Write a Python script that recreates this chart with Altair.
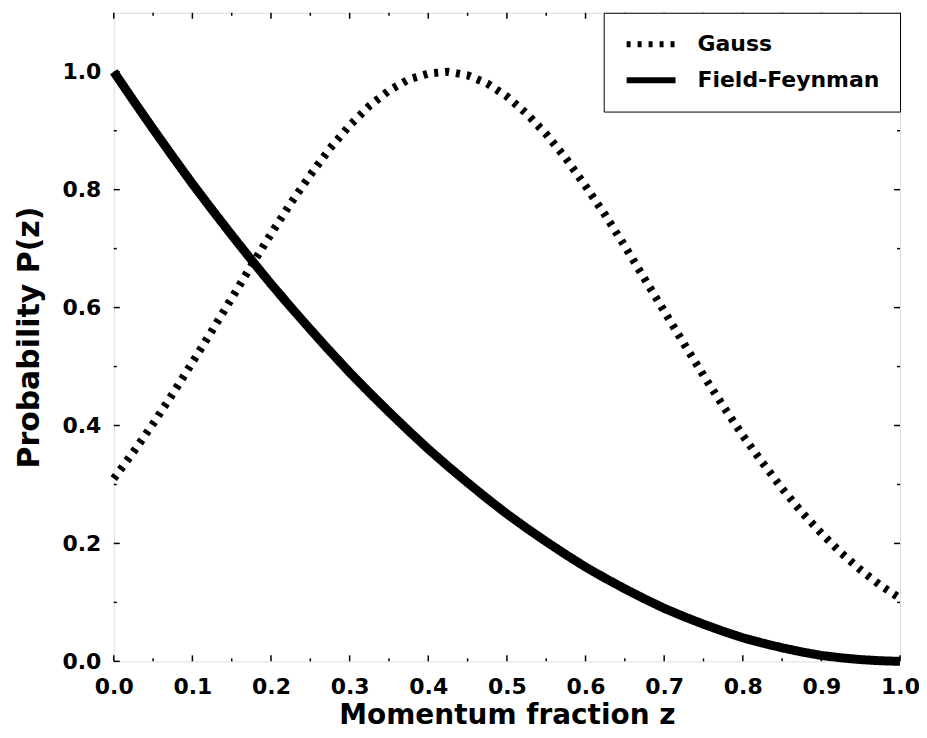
import altair as alt
import pandas as pd

# ---- data ----
z_vals = [0.0, 0.025, 0.05, 0.075, 0.1, 0.125, 0.15, 0.175, 0.2, 0.225,
          0.25, 0.275, 0.3, 0.325, 0.35, 0.375, 0.4, 0.425, 0.45, 0.475,
          0.5, 0.525, 0.55, 0.575, 0.6, 0.625, 0.65, 0.675, 0.7, 0.725,
          0.75, 0.775, 0.8, 0.825, 0.85, 0.875, 0.9, 0.925, 0.95, 0.975, 1.0]

gauss_vals = [0.310, 0.355, 0.403, 0.454, 0.507, 0.561, 0.616, 0.671, 0.725, 0.777,
              0.825, 0.870, 0.909, 0.942, 0.968, 0.987, 0.997, 1.000, 0.994, 0.980,
              0.958, 0.929, 0.894, 0.853, 0.806, 0.757, 0.704, 0.649, 0.594, 0.539,
              0.485, 0.433, 0.383, 0.337, 0.293, 0.253, 0.217, 0.184, 0.155, 0.129, 0.107]

ff_vals = [1.000, 0.951, 0.903, 0.856, 0.810, 0.766, 0.723, 0.681, 0.640, 0.601,
           0.563, 0.526, 0.490, 0.456, 0.423, 0.391, 0.360, 0.331, 0.303, 0.276,
           0.250, 0.226, 0.203, 0.181, 0.160, 0.141, 0.123, 0.106, 0.090, 0.076,
           0.063, 0.051, 0.040, 0.031, 0.023, 0.016, 0.010, 0.006, 0.003, 0.001, 0.000]

series_names = ["Gauss", "Field-Feynman"]

x_major = [0.0, 0.1, 0.2, 0.3, 0.4, 0.5, 0.6, 0.7, 0.8, 0.9, 1.0]
x_minor = [0.05, 0.15, 0.25, 0.35, 0.45, 0.55, 0.65, 0.75, 0.85, 0.95]
y_major = [0.0, 0.2, 0.4, 0.6, 0.8, 1.0]
y_minor = [0.1, 0.3, 0.5, 0.7, 0.9]

W, H = 788, 650
FONT = "DejaVu Sans"

df_g = pd.DataFrame({"z": z_vals, "p": gauss_vals, "series": series_names[0]})
df_f = pd.DataFrame({"z": z_vals, "p": ff_vals, "series": series_names[1]})

xs = alt.Scale(domain=[0, 1], nice=False, zero=False)
ys = alt.Scale(domain=[0, 1.1], nice=False, zero=False)

x_axis = alt.Axis(values=x_major, format=".1f", ticks=False, domain=False, grid=False,
                  labelFont=FONT, labelFontSize=22, labelFontWeight="bold", labelColor="black",
                  labelPadding=15, labelFlush=False, labelOverlap=False,
                  title="Momentum fraction z", titleFont=FONT, titleFontSize=28,
                  titleFontWeight="bold", titleColor="black", titlePadding=4)
y_axis = alt.Axis(values=y_major, format=".1f", ticks=False, domain=False, grid=False,
                  labelFont=FONT, labelFontSize=22, labelFontWeight="bold", labelColor="black",
                  labelPadding=13, labelFlush=False, labelOverlap=False,
                  title="Probability P(z)", titleFont=FONT, titleFontSize=30,
                  titleFontWeight="bold", titleColor="black", titlePadding=17)

X = alt.X("z:Q", scale=xs, axis=x_axis)
Y = alt.Y("p:Q", scale=ys, axis=y_axis)

dash = alt.StrokeDash(
    "series:N",
    scale=alt.Scale(domain=series_names, range=[[4, 7], [1, 0]]),
    legend=alt.Legend(
        title=None, orient="top-right", offset=0, symbolType="stroke",
        symbolSize=2401, symbolStrokeWidth=6, symbolStrokeColor="black",
        clipHeight=23, rowPadding=13, labelOffset=19, padding=20, labelLimit=400,
        labelFont=FONT, labelFontSize=22, labelFontWeight="bold", labelColor="black",
        strokeColor="black", fillColor="white",
    ),
)

gauss = alt.Chart(df_g).mark_line(color="black", strokeWidth=8, strokeCap="butt").encode(
    x=X, y=Y, strokeDash=dash)
ff = alt.Chart(df_f).mark_line(color="black", strokeWidth=9, strokeCap="butt").encode(
    x=X, y=Y, strokeDash=dash)

dxM = pd.DataFrame({"z": x_major})
dxm = pd.DataFrame({"z": x_minor})
dyM = pd.DataFrame({"p": y_major})
dym = pd.DataFrame({"p": y_minor})

def xticks(d, y0, y1):
    return alt.Chart(d).mark_rule(color="black", strokeWidth=1.5).encode(
        x=X, y=alt.value(y0), y2=alt.value(y1))

def yticks(d, x0, x1):
    return alt.Chart(d).mark_rule(color="black", strokeWidth=1.5).encode(
        y=Y, x=alt.value(x0), x2=alt.value(x1))

ticks = [
    xticks(dxM, H, H - 6), xticks(dxm, H, H - 3),
    xticks(dxM, 0, 6), xticks(dxm, 0, 3),
    yticks(dyM, 0, 6), yticks(dym, 0, 3),
    yticks(dyM, W, W - 6), yticks(dym, W, W - 3),
]

chart = alt.layer(*ticks, gauss, ff).properties(
    width=W, height=H,
    autosize=alt.AutoSizeParams(type="none"),
    padding={"left": 106, "top": 4, "right": 19, "bottom": 68},
).configure_view(stroke="black", strokeWidth=1.5).configure(background="white")

chart.save("out.html", embed_options={"renderer": "svg", "actions": False})
